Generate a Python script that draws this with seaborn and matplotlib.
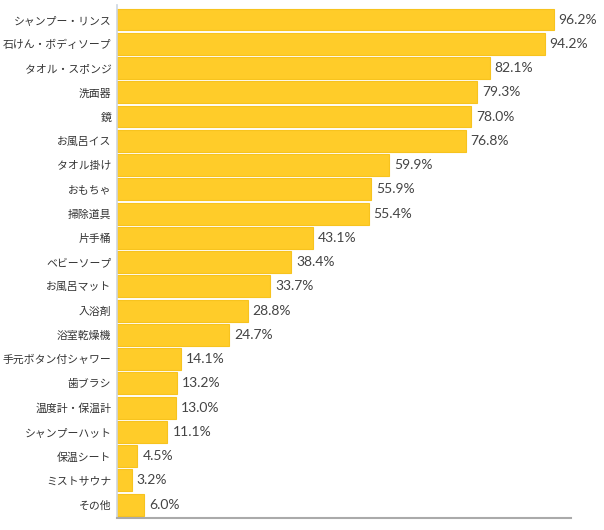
import matplotlib
matplotlib.use("Agg")
import matplotlib.pyplot as plt
import seaborn as sns
import pandas as pd


# Chart data
items = ['シャンプー・リンス', '石けん・ボディソープ', 'タオル・スポンジ', '洗面器', '鏡',
         'お風呂イス', 'タオル掛け', 'おもちゃ', '掃除道具', '片手桶', 'ベビーソープ',
         'お風呂マット', '入浴剤', '浴室乾燥機', '手元ボタン付シャワー', '歯ブラシ',
         '温度計・保温計', 'シャンプーハット', '保温シート', 'ミストサウナ', 'その他']
values = [96.2, 94.2, 82.1, 79.3, 78.0, 76.8, 59.9, 55.9, 55.4, 43.1, 38.4,
          33.7, 28.8, 24.7, 14.1, 13.2, 13.0, 11.1, 4.5, 3.2, 6.0]

df = pd.DataFrame({'item': items, 'value': values})

sns.set_style('white')
plt.rcParams['font.family'] = ['Noto Sans CJK JP', 'DejaVu Sans']

fig = plt.figure(figsize=(6.04, 5.30), dpi=100)
ax = fig.add_axes([117 / 604, 12 / 530, 454 / 604, 513 / 530])

sns.barplot(data=df, x='value', y='item', orient='h', color='#FFCC29',
            saturation=1, width=0.9, edgecolor='#F7C31E', linewidth=0.8, ax=ax)

# value labels at the end of each bar
for i, v in enumerate(values):
    ax.text(v + 1.1, i, f'{v:.1f}%', va='center', ha='left', fontsize=10,
            color='#444444', family=['Lato', 'DejaVu Sans'])

ax.set_xlim(0, 100)
ax.set_ylim(len(items) - 0.45, -0.6)
ax.set_xlabel('')
ax.set_ylabel('')
ax.set_xticks([])
ax.tick_params(axis='y', length=0, pad=4, labelsize=7.8, labelcolor='#333333')

for s in ['top', 'right']:
    ax.spines[s].set_visible(False)
ax.spines['left'].set_color('#cdd5e0')
ax.spines['left'].set_linewidth(1.2)
ax.spines['bottom'].set_color('#aaaaaa')
ax.spines['bottom'].set_linewidth(1.5)

fig.savefig('out.png', dpi=100)
plt.close()
